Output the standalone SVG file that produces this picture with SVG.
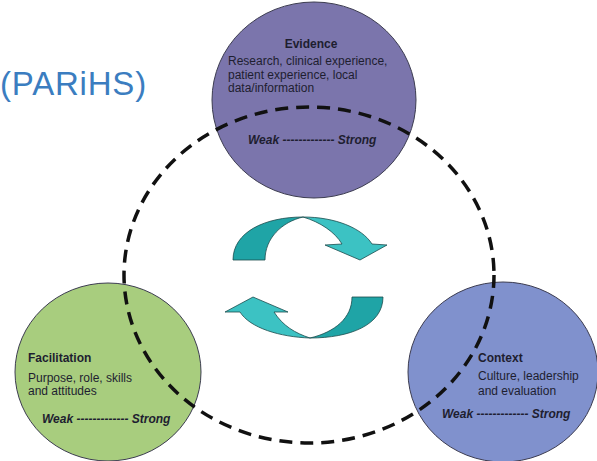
<svg xmlns="http://www.w3.org/2000/svg" width="597" height="461" viewBox="0 0 597 461">
<style>
.t{font-family:"Liberation Sans",Arial,sans-serif;font-size:12px;fill:#1e1e30}
.b{font-weight:bold}
.w{font-weight:bold;font-style:italic}
.circ{stroke:#3c3c50;stroke-width:1}
.dark{fill:#1fa4a6;stroke:#1b4b4c;stroke-width:0.8}
.light{fill:#3cc2c3;stroke:#1b4b4c;stroke-width:0.8}
</style>
<rect width="597" height="461" fill="#ffffff"/>
<text x="0" y="95" font-family="Liberation Sans,Arial,sans-serif" font-size="33" letter-spacing="0.8" fill="#3b7dc0">(PARiHS)</text>
<g id="evidence">
<ellipse class="circ" cx="314" cy="100" rx="102" ry="98" fill="#7b75ac"/>
<text class="t b" x="311" y="48" text-anchor="middle">Evidence</text>
<text class="t" x="228" y="65">Research, clinical experience,</text>
<text class="t" x="228" y="79">patient experience, local</text>
<text class="t" x="228" y="92">data/information</text>
<text class="t w" x="248" y="144">Weak ------------- Strong</text>
</g>
<g id="facilitation">
<ellipse class="circ" cx="108" cy="372" rx="93" ry="89" fill="#a8cd7e"/>
<text class="t b" x="28" y="362">Facilitation</text>
<text class="t" x="28" y="382">Purpose, role, skills</text>
<text class="t" x="28" y="395">and attitudes</text>
<text class="t w" x="42" y="423">Weak ------------- Strong</text>
</g>
<g id="context">
<ellipse class="circ" cx="503" cy="372" rx="95" ry="90" fill="#8091cd"/>
<text class="t b" x="478" y="362">Context</text>
<text class="t" x="478" y="380">Culture, leadership</text>
<text class="t" x="478" y="395">and evaluation</text>
<text class="t w" x="442" y="418">Weak ------------- Strong</text>
</g>
<g id="connectors">
<ellipse cx="309" cy="275" rx="185" ry="168" fill="none" stroke="#111" stroke-width="3.5" stroke-dasharray="13 8"/>
</g>
<g id="cycle-arrows">
<path class="dark" d="M233,260 C233,232 265,217 303,217 C282,222 265,238 265,260 Z"/>
<path class="light" d="M303,217 C335,217 362,228 372,244 L387,245 L360,260 L325,245 L342,244 C335,232 320,222 303,217 Z"/>
<path class="dark" d="M352,297 L383,297 C383,325 350,338 310,338 C335,332 352,318 352,297 Z"/>
<path class="light" d="M310,338 C280,337 250,328 240,312 L225,312 L253,297 L288,312 L274,312 C283,326 295,333 310,338 Z"/>
</g>
</svg>
